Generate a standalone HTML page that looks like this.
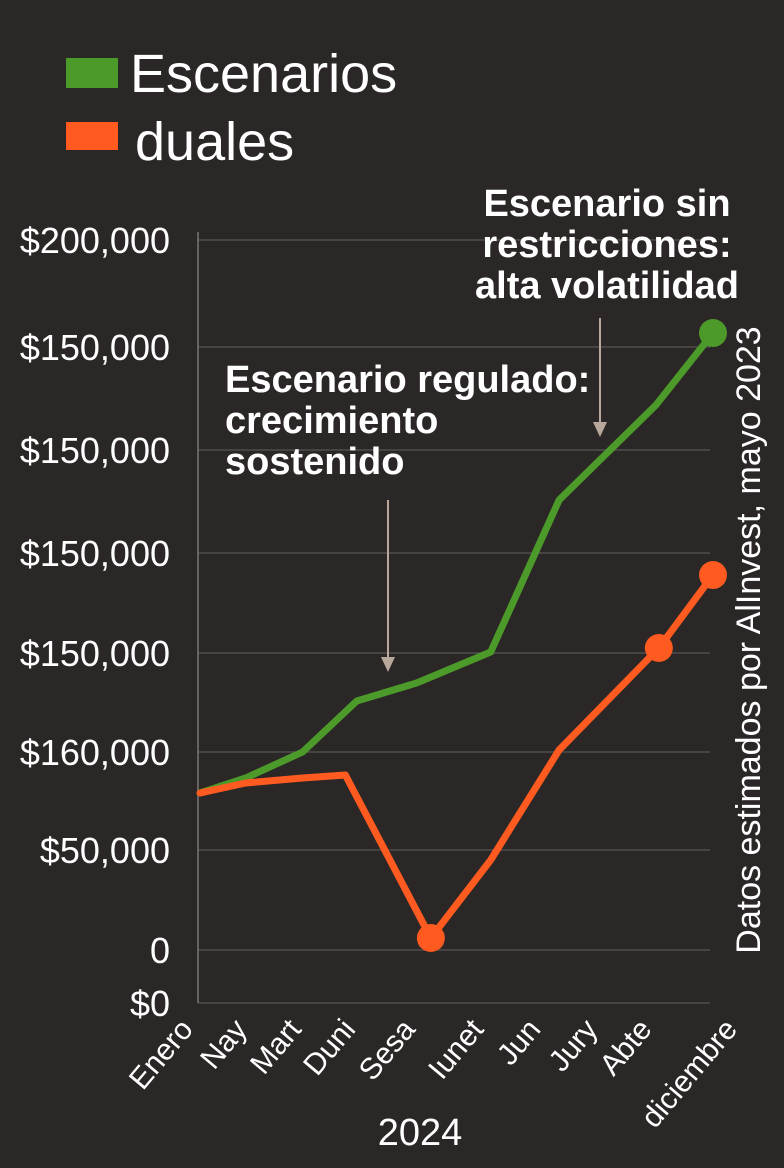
<!DOCTYPE html>
<html><head><meta charset="utf-8"><style>
html,body{margin:0;padding:0;background:#2b2726;}
svg{display:block}
text{font-family:"Liberation Sans Narrow","Liberation Sans",sans-serif;fill:#fff;}
</style></head><body>
<svg width="784" height="1168" viewBox="0 0 784 1168">
<rect width="784" height="1168" fill="#2b2726"/>
<g id="legend">
 <rect x="66" y="58" width="52" height="30" fill="#4c9a2a"/>
 <text x="130" y="92" font-size="54">Escenarios</text>
 <rect x="66" y="122" width="52" height="28" fill="#ff5a1f"/>
 <text x="135" y="160" font-size="54">duales</text>
</g>
<g id="grid"></g>
<line x1="198" y1="232" x2="198" y2="1003" stroke="#777" stroke-width="1.5"/>
<g id="series"></g>
<g id="xlabels"></g>
<text x="420" y="1145" font-size="38" text-anchor="middle">2024</text>
<g>
 <text x="607" y="216" font-size="38" font-weight="bold" text-anchor="middle">Escenario sin</text>
 <text x="607" y="257" font-size="38" font-weight="bold" text-anchor="middle">restricciones:</text>
 <text x="607" y="298" font-size="38" font-weight="bold" text-anchor="middle">alta volatilidad</text>
 <line x1="600" y1="318" x2="600" y2="425" stroke="#b8a89c" stroke-width="2"/>
 <polygon points="593,422 607,422 600,437" fill="#b8a89c"/>
</g>
<g>
 <text x="225" y="392" font-size="38" font-weight="bold">Escenario regulado:</text>
 <text x="225" y="433" font-size="38" font-weight="bold">crecimiento</text>
 <text x="225" y="474" font-size="38" font-weight="bold">sostenido</text>
 <line x1="388" y1="500" x2="388" y2="660" stroke="#b8a89c" stroke-width="2"/>
 <polygon points="381,657 395,657 388,672" fill="#b8a89c"/>
</g>
<text transform="translate(760,640) rotate(-90)" font-size="34" text-anchor="middle">Datos estimados por AlInvest, mayo 2023</text>
</svg>
<script>
const tickValues=[200000,169860,140850,111830,83660,55775,28170,0,-14930];
const tickLabels=["$200,000","$150,000","$150,000","$150,000","$150,000","$160,000","$50,000","0","$0"];
const categories=["Enero","Nay","Mart","Duni","Sesa","Iunet","Jun","Jury","Abte","diciembre"];
const catPos=[-0.1,0.85,1.8,2.75,3.8,5.0,6.0,7.0,7.95,9.45];
const greenX=[0,0.8,1.8,2.75,3.8,5.1,6.3,8.0,9.0];
const greenVals=[44225,48450,55775,70140,75210,83940,126760,153520,173800];
const orangeX=[0,0.8,1.8,2.55,4.05,5.1,6.3,8.05,9.0];
const orangeVals=[44225,47040,48450,49300,3380,25350,56340,85070,105630];
const greenMarkers=[8];
const orangeMarkers=[4,7,8];
const NS="http://www.w3.org/2000/svg";
const ys=v=>950-v/200000*710;
const xs=t=>200+t*57;
function mk(tag,attrs,parent){const e=document.createElementNS(NS,tag);for(const k in attrs)e.setAttribute(k,attrs[k]);parent.appendChild(e);return e;}
const grid=document.getElementById('grid');
tickValues.forEach((v,i)=>{
 const y=ys(v);
 const l=mk('line',{x1:198,x2:710,y1:y,y2:y,stroke:'#555','stroke-width':1.2},grid);
 
 
 const t=mk('text',{x:170,y:y+13,'font-size':36,'text-anchor':'end'},grid);
 t.textContent=tickLabels[i];
 
 
});
const ser=document.getElementById('series');
function line(xv,vals,color,name,markers){
 const p=mk('polyline',{points:xv.map((t,i)=>xs(t)+','+ys(vals[i])).join(' '),fill:'none',stroke:color,'stroke-width':7,'stroke-linejoin':'round','stroke-linecap':'round'},ser);
 
 
 markers.forEach(i=>{
  const c=mk('circle',{cx:xs(xv[i]),cy:ys(vals[i]),r:14,fill:color},ser);
  
  
 });
}
line(greenX,greenVals,'#4c9a2a','green-series-line',greenMarkers);
line(orangeX,orangeVals,'#ff5a1f','orange-series-line',orangeMarkers);
const xl=document.getElementById('xlabels');
categories.forEach((c,i)=>{
 const x=xs(catPos[i]);
 const t=mk('text',{transform:`translate(${x},1030) rotate(-50)`,'font-size':30,'text-anchor':'end'},xl);
 t.textContent=c;
 
 
});
</script>
</body></html>
